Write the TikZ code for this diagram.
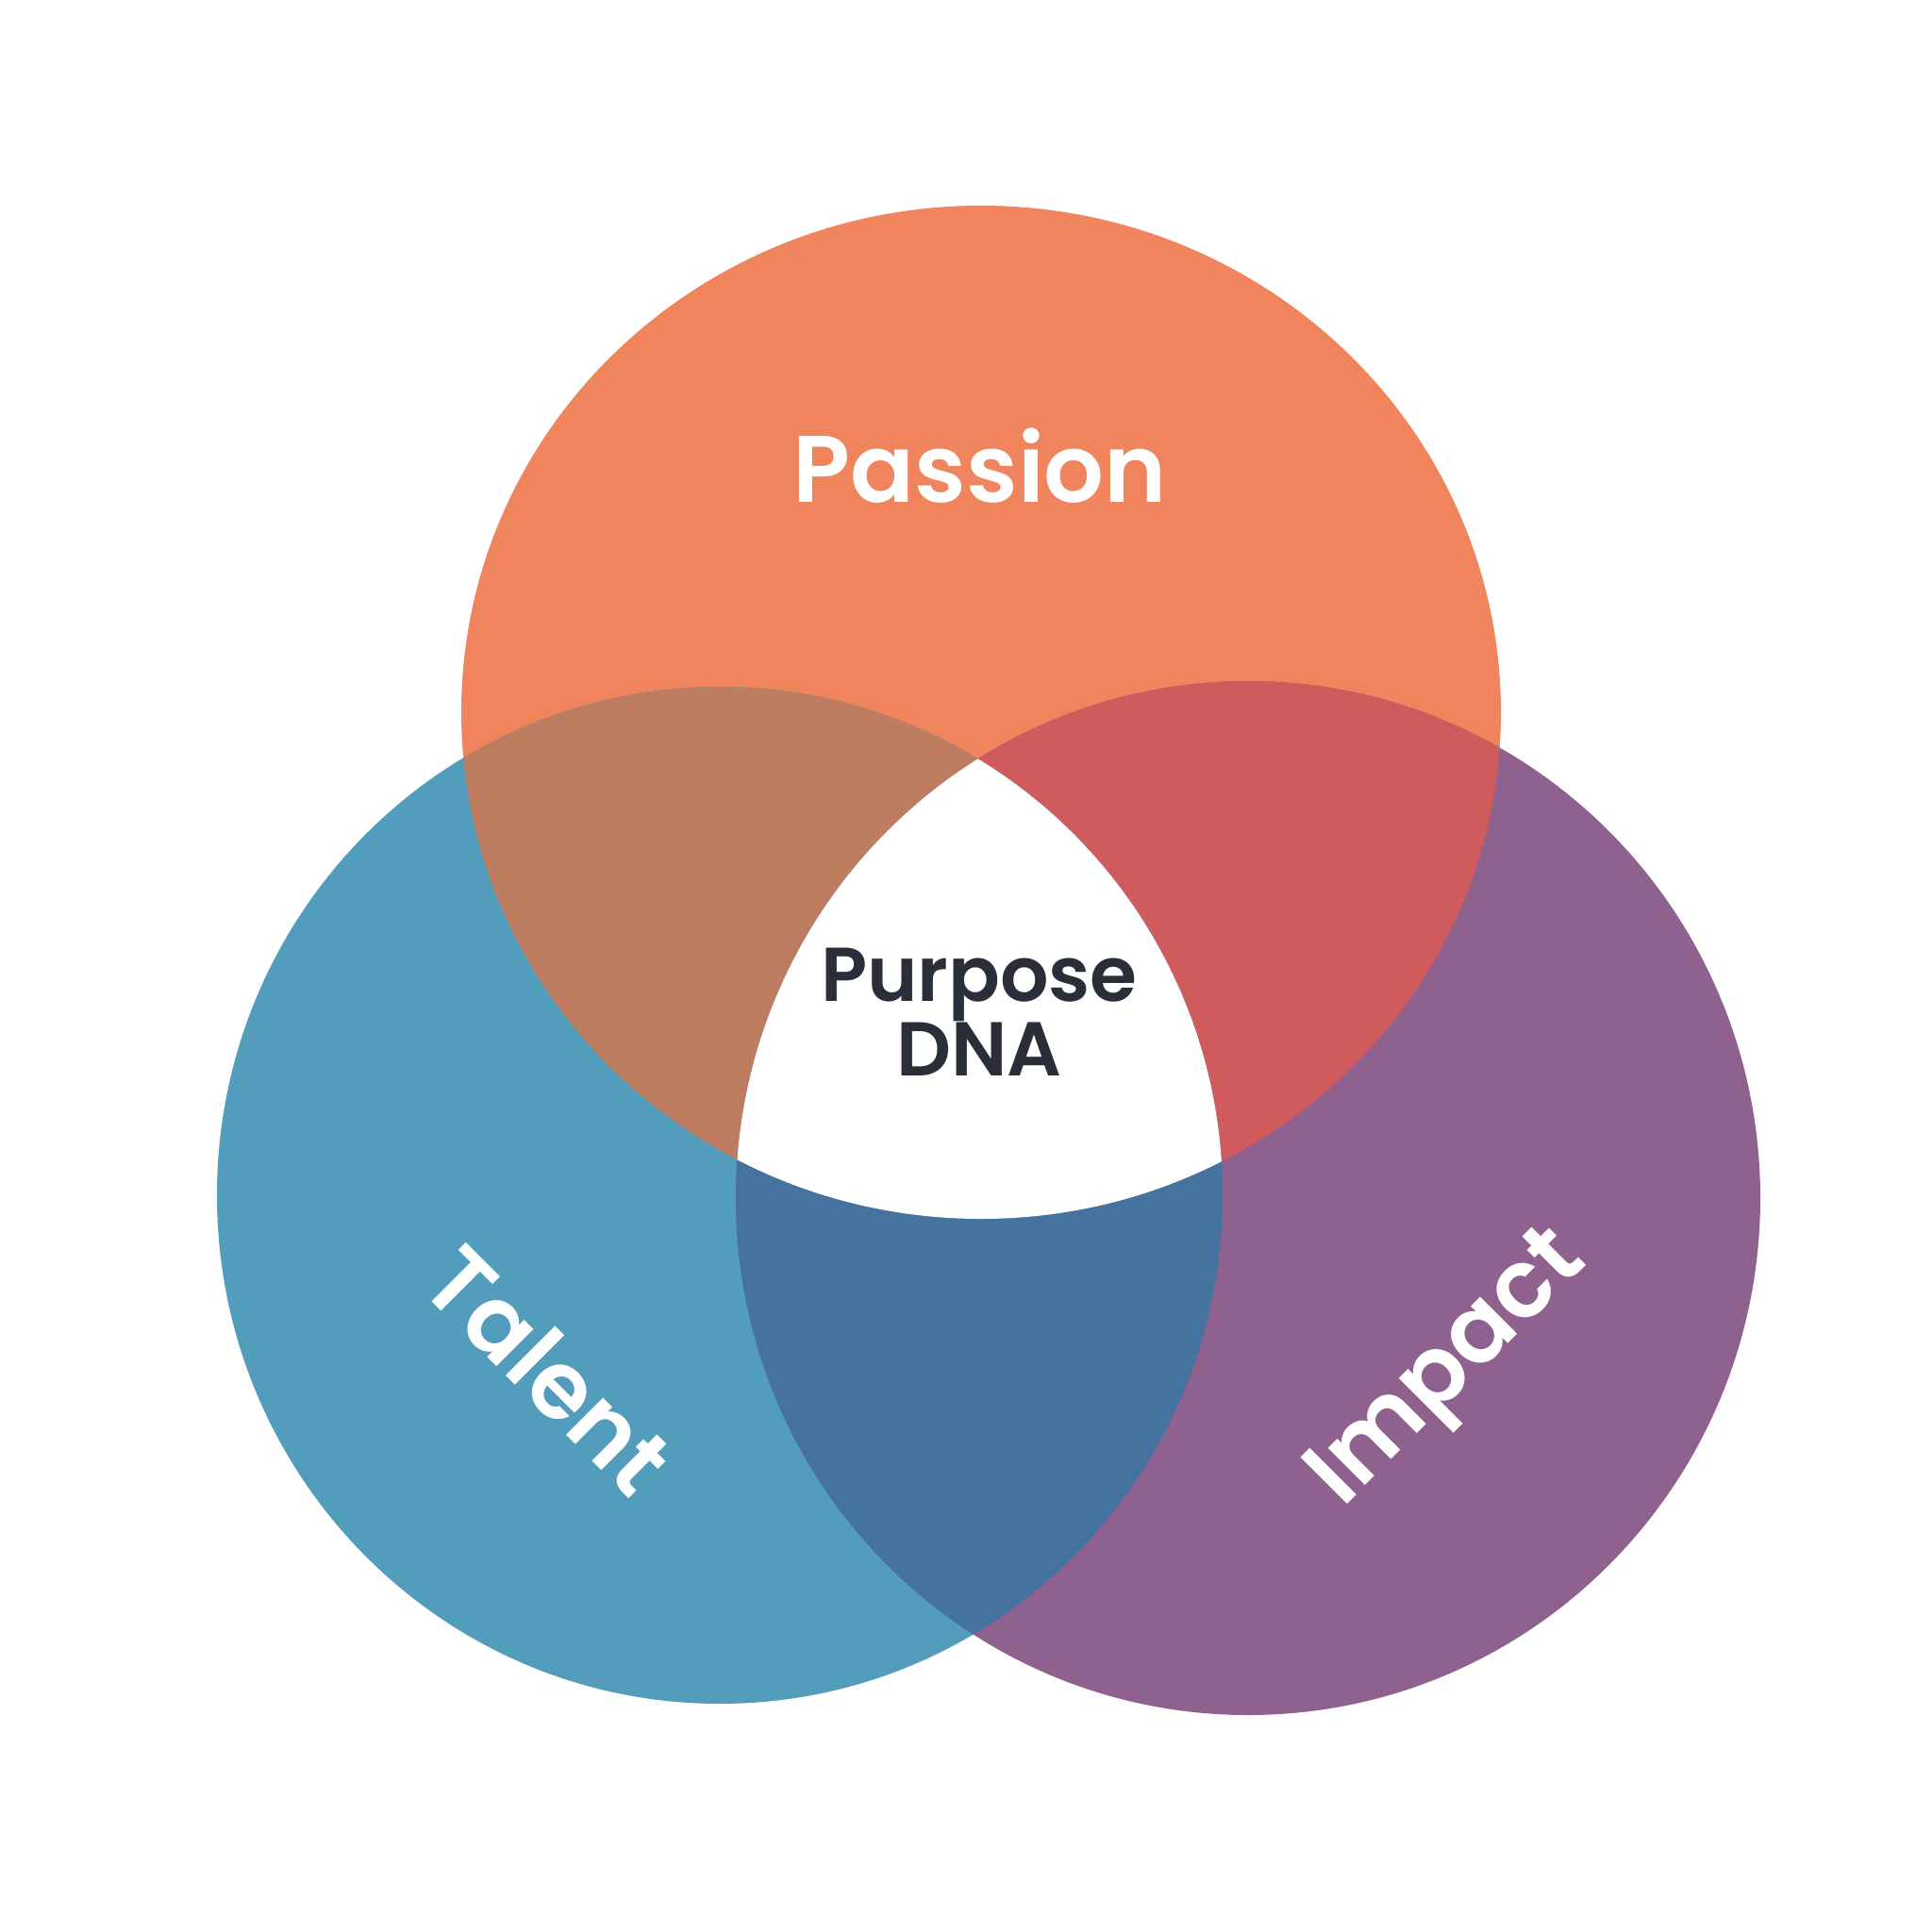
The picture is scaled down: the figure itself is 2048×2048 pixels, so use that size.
\documentclass[tikz,border=0pt]{standalone}
\usepackage{fontspec}
\setmainfont{Poppins}[BoldFont={Poppins SemiBold}]
\definecolor{cO}{HTML}{EF845D}
\definecolor{cB}{HTML}{519DBB}
\definecolor{cP}{HTML}{8F618E}
\definecolor{cOB}{HTML}{BE7C60}
\definecolor{cOP}{HTML}{D05B5D}
\definecolor{cBP}{HTML}{45739F}
\definecolor{cTxt}{HTML}{2A2E38}
\tikzset{
  biglbl/.style={text=white, font=\fontsize{28.5}{34}\selectfont\bfseries, inner sep=0pt},
  midlbl/.style={text=cTxt, font=\fontsize{23}{22.5}\selectfont\bfseries, align=center, inner sep=0pt}
}
\def\orangeC{(1040,755) ellipse [x radius=551, y radius=537]}
\def\blueC{(763,1267) ellipse [x radius=533, y radius=539]}
\def\purpleC{(1323,1270) ellipse [x radius=543, y radius=548]}
\begin{document}
\begin{tikzpicture}[x=0.01cm,y=-0.01cm]
\useasboundingbox (0,0) rectangle (2048,2048);
\fill[white] (0,0) rectangle (2048,2048);
\fill[cO] \orangeC;
\fill[cB] \blueC;
\fill[cP] \purpleC;
\begin{scope}\clip \orangeC; \fill[cOB] \blueC; \end{scope}
\begin{scope}\clip \orangeC; \fill[cOP] \purpleC; \end{scope}
\begin{scope}\clip \blueC; \fill[cBP] \purpleC; \end{scope}
\begin{scope}\clip \orangeC; \clip \blueC; \fill[white] \purpleC; \end{scope}
\node[biglbl] (passion) at (1039,494) {Passion};
\node[midlbl] (purpose) at (1038,1073) {Purpose\\DNA};
\node[biglbl, rotate=-45] (talent) at (582,1452) {Talent};
\node[biglbl, rotate=45] (impact) at (1538,1454) {Impact};
\end{tikzpicture}
\end{document}
